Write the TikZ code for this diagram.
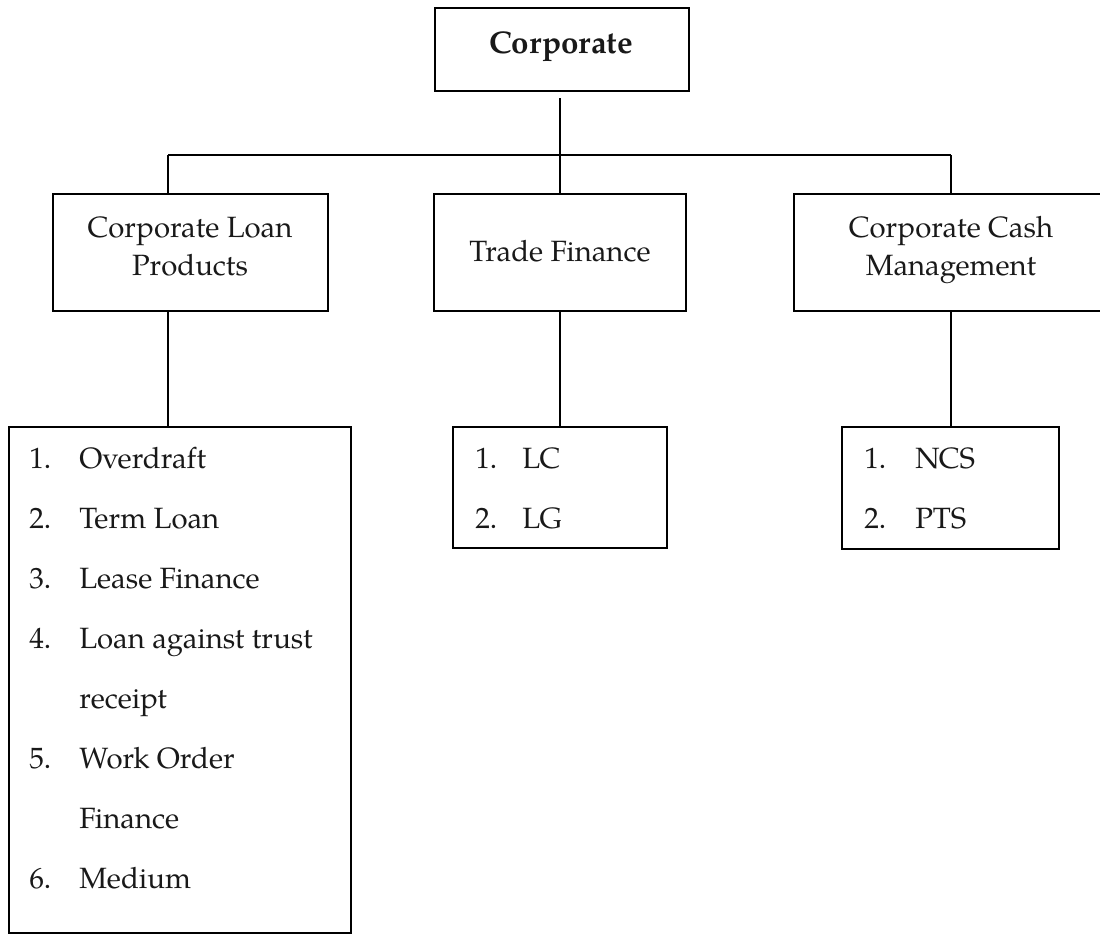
\documentclass[tikz,border=0pt]{standalone}
\usepackage{fontspec}
\setmainfont{texgyrepagella}[Extension=.otf, UprightFont=*-regular, BoldFont=*-bold, ItalicFont=*-italic, BoldItalicFont=*-bolditalic]
\usetikzlibrary{fit}

\begin{document}
\begin{tikzpicture}[x=0.75pt, y=-0.75pt,
  box/.style={draw, line width=1.25pt, inner sep=0pt},
  link/.style={line width=1.15pt},
  txt/.style={inner sep=0pt, anchor=base, text=black!90, font=\fontsize{22pt}{28.5pt}\selectfont},
  listtxt/.style={inner sep=0pt, anchor=base west, text=black!90, font=\fontsize{22pt}{45pt}\selectfont}]
\useasboundingbox (0,0) rectangle (1100,935);

% boxes
\node[box, fit={(435,8) (689,91)}] (corp) {};
\node[box, fit={(53,194) (328,311)}] (clp) {};
\node[box, fit={(434,194) (686,311)}] (tf) {};
\node[box, fit={(794,194) (1104,311)}] (ccm) {};
\node[box, fit={(9,427) (351,933)}] (lp) {};
\node[box, fit={(453,427) (667,548)}] (tl) {};
\node[box, fit={(842,427) (1059,549)}] (cl) {};

% box titles
\node[txt, font=\fontsize{23.5pt}{28pt}\selectfont\bfseries] (corpT) at (561,53) {Corporate};
\node[txt] (clpT) at (190,237) {\begin{tabular}[t]{@{}c@{}}Corporate Loan\\Products\end{tabular}};
\node[txt] (tfT) at (560,261) {Trade Finance};
\node[txt] (ccmT) at (951,237) {\begin{tabular}[t]{@{}c@{}}Corporate Cash\\Management\end{tabular}};

% lists
\node[listtxt] (lpT) at (29,468) {\begin{tabular}[t]{@{}p{37.5pt}@{}l@{}}
1. & Overdraft\\
2. & Term Loan\\
3. & Lease Finance\\
4. & Loan against trust\\
   & receipt\\
5. & Work Order\\
   & Finance\\
6. & Medium
\end{tabular}};
\node[listtxt] (tlT) at (475,468) {\begin{tabular}[t]{@{}p{35.25pt}@{}l@{}}
1. & LC\\
2. & LG
\end{tabular}};
\node[listtxt] (clT) at (864,468) {\begin{tabular}[t]{@{}p{38.25pt}@{}l@{}}
1. & NCS\\
2. & PTS
\end{tabular}};

% connectors
\coordinate (ctop) at (560,98);
\coordinate (busL) at (168,155);
\coordinate (busR) at (951,155);
\draw[link] (ctop) -- (tf.north);
\draw[link] (busL) -- (busR);
\draw[link] (busL) -- (busL |- clp.north);
\draw[link] (busR) -- (busR |- ccm.north);
\draw[link] (busL |- clp.south) -- (busL |- lp.north);
\draw[link] (tf.south) -- (tl.north);
\draw[link] (busR |- ccm.south) -- (busR |- cl.north);
\end{tikzpicture}
\end{document}
